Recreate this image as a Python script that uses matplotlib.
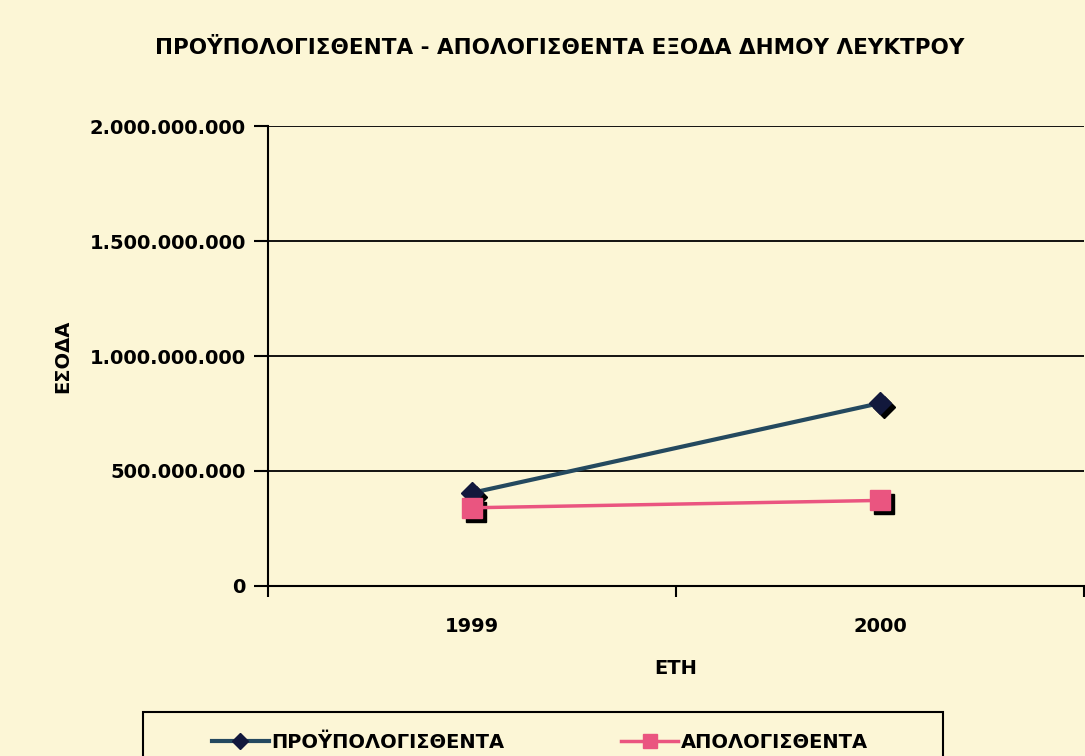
import matplotlib
matplotlib.use("Agg")
import matplotlib.pyplot as plt
from matplotlib.ticker import FuncFormatter, FixedLocator
from matplotlib.transforms import ScaledTranslation
from matplotlib.patches import Rectangle

years = ["1999", "2000"]
budgeted = [405_000_000, 795_000_000]
actual = [340_000_000, 372_000_000]
series_names = ["ΠΡΟΫΠΟΛΟΓΙΣΘΕΝΤΑ", "ΑΠΟΛΟΓΙΣΘΕΝΤΑ"]
title = "ΠΡΟΫΠΟΛΟΓΙΣΘΕΝΤΑ - ΑΠΟΛΟΓΙΣΘΕΝΤΑ ΕΞΟΔΑ ΔΗΜΟΥ ΛΕΥΚΤΡΟΥ"
y_ticks = [0, 500_000_000, 1_000_000_000, 1_500_000_000, 2_000_000_000]

plt.rcParams["font.family"] = ["DejaVu Sans"]
plt.rcParams["font.weight"] = "bold"

bg = "#FCF6D6"
fig = plt.figure(figsize=(10.85, 7.56), dpi=100, facecolor=bg)
ax = fig.add_axes([0.247, 0.2249, 0.752, 0.6084])
ax.set_facecolor(bg)

x = list(range(len(years)))
blue_line = "#24495F"
blue_mark = "#12183C"
pink = "#EA5580"

shadow = ax.transData + ScaledTranslation(4/100, -4/100, fig.dpi_scale_trans)
ax.plot(x, budgeted, linestyle="none", marker="D", markersize=11,
        color="black", transform=shadow, zorder=3)
ax.plot(x, actual, linestyle="none", marker="s", markersize=14,
        color="black", transform=shadow, zorder=3)
l1, = ax.plot(x, budgeted, color=blue_line, lw=3, marker="D", markersize=11,
              markerfacecolor=blue_mark, markeredgecolor=blue_mark, zorder=4,
              label=series_names[0])
l2, = ax.plot(x, actual, color=pink, lw=2.5, marker="s", markersize=14,
              markerfacecolor=pink, markeredgecolor=pink, zorder=4,
              label=series_names[1])

ax.set_xlim(-0.5, len(years) - 0.5)
ax.set_ylim(0, 2_000_000_000)
ax.set_yticks(y_ticks)
ax.yaxis.set_major_formatter(FuncFormatter(lambda v, p: f"{v:,.0f}".replace(",", ".")))
ax.set_xticks(x)
ax.set_xticklabels(years)
ax.xaxis.set_minor_locator(FixedLocator([i - 0.5 for i in range(len(years) + 1)]))
ax.tick_params(axis="x", which="major", length=0, pad=22, labelsize=14)
ax.tick_params(axis="x", which="minor", length=8, width=1.5, direction="out", color="black")
ax.tick_params(axis="y", which="major", length=10, width=1.5, direction="out", labelsize=14, pad=6)

ax.grid(axis="y", color="black", lw=1.3)
ax.set_axisbelow(True)
for s in ["top", "right"]:
    ax.spines[s].set_visible(False)
for s in ["left", "bottom"]:
    ax.spines[s].set_linewidth(1.5)
    ax.spines[s].set_color("black")

ax.set_xlabel("ΕΤΗ", fontsize=14, fontweight="bold", labelpad=17)
ax.set_ylabel("ΕΣΟΔΑ", fontsize=14, fontweight="bold", labelpad=12)

fig.text(0.516, 0.937, title, ha="center", va="center", fontsize=15.5, fontweight="bold")

leg = fig.legend(handles=[l1, l2], loc="center",
                 bbox_to_anchor=(0.4977, 0.0185), ncol=2, frameon=False,
                 fontsize=14, handlelength=2.9, handletextpad=0.15,
                 columnspacing=6.0, borderpad=0, markerscale=0.7)
for t in leg.get_texts():
    t.set_fontweight("bold")

fig.patches.append(Rectangle((0.1318, -0.05), 0.7373, 0.1082, transform=fig.transFigure,
                             fill=False, edgecolor="black", lw=1.5))

fig.savefig("out.png", dpi=100, facecolor=bg)
